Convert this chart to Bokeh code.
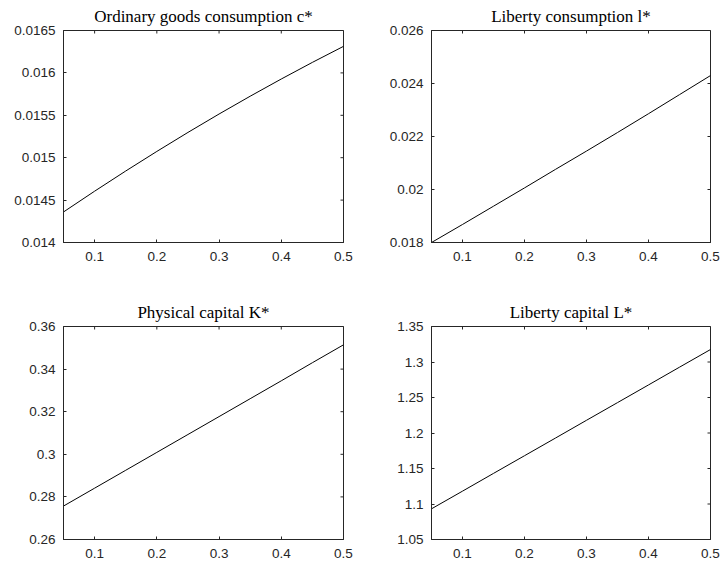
import math
from bokeh.plotting import figure
from bokeh.layouts import gridplot
from bokeh.models import FixedTicker, Range1d
from bokeh.embed import file_html
from bokeh.resources import INLINE

# ---- data ----
x_vals = [0.05, 0.10, 0.15, 0.20, 0.25, 0.30, 0.35, 0.40, 0.45, 0.50]
c_star = [0.01436, 0.014605, 0.014843, 0.015074, 0.015298, 0.015515, 0.015725, 0.015928, 0.016124, 0.016313]
l_star = [0.01800, 0.01868, 0.01937, 0.02006, 0.02076, 0.02145, 0.02215, 0.02286, 0.02358, 0.02430]
K_star = [0.2757, 0.2841, 0.2925, 0.3009, 0.3093, 0.3177, 0.3261, 0.3345, 0.3430, 0.3514]
L_star = [1.0932, 1.1181, 1.1431, 1.1680, 1.1929, 1.2179, 1.2428, 1.2677, 1.2927, 1.3176]

x_ticks = [0.1, 0.2, 0.3, 0.4, 0.5]
x_tick_labels = ["0.1", "0.2", "0.3", "0.4", "0.5"]

c_ticks = [0.014, 0.0145, 0.015, 0.0155, 0.016, 0.0165]
c_tick_labels = ["0.014", "0.0145", "0.015", "0.0155", "0.016", "0.0165"]
l_ticks = [0.018, 0.020, 0.022, 0.024, 0.026]
l_tick_labels = ["0.018", "0.02", "0.022", "0.024", "0.026"]
K_ticks = [0.26, 0.28, 0.30, 0.32, 0.34, 0.36]
K_tick_labels = ["0.26", "0.28", "0.3", "0.32", "0.34", "0.36"]
L_ticks = [1.05, 1.10, 1.15, 1.20, 1.25, 1.30, 1.35]
L_tick_labels = ["1.05", "1.1", "1.15", "1.2", "1.25", "1.3", "1.35"]

titles = ["Ordinary goods consumption c*", "Liberty consumption l*",
          "Physical capital K*", "Liberty capital L*"]

AX_COLOR = "#262626"
TICK_FONT = "Liberation Sans"
TICK_SIZE = "13.5px"


def style_axis(ax):
    ax.axis_line_color = AX_COLOR
    ax.axis_line_width = 1
    ax.major_tick_line_color = AX_COLOR
    ax.major_tick_in = 3
    ax.major_tick_out = 0
    ax.minor_tick_line_color = None
    ax.major_label_text_color = AX_COLOR
    ax.major_label_text_font = TICK_FONT
    ax.major_label_text_font_size = TICK_SIZE


def make_panel(title, xs, ys, yticks, ylabels, ymin, ymax, w, h, bl, br, bt, bb):
    xr = Range1d(0.05, 0.5)
    yr = Range1d(ymin, ymax)
    p = figure(width=w, height=h, output_backend="svg", toolbar_location=None,
               x_range=xr, y_range=yr,
               min_border_left=bl, min_border_right=br,
               min_border_top=bt, min_border_bottom=bb)
    p.title.text = title
    p.title.text_font = "Liberation Serif"
    p.title.text_font_size = "17px"
    p.title.text_font_style = "normal"
    p.title.text_color = "#000000"
    p.title.align = "center"
    p.title.standoff = 9
    p.xgrid.visible = False
    p.ygrid.visible = False
    p.outline_line_color = AX_COLOR
    p.outline_line_width = 1
    p.background_fill_color = "white"
    p.border_fill_color = "white"

    p.xaxis.ticker = FixedTicker(ticks=x_ticks)
    p.xaxis.major_label_overrides = dict(zip(x_ticks, x_tick_labels))
    p.xaxis.major_label_standoff = 9
    p.yaxis.ticker = FixedTicker(ticks=yticks)
    p.yaxis.major_label_overrides = dict(zip(yticks, ylabels))
    p.yaxis.major_label_standoff = 8
    style_axis(p.xaxis[0])
    style_axis(p.yaxis[0])

    # inward tick marks on the top and right edges (box style), clipped to the frame
    p.scatter(x=x_ticks, y=[yr.end] * len(x_ticks), marker="dash", angle=math.pi / 2,
              size=6, line_color=AX_COLOR, line_width=1)
    p.scatter(x=[xr.end] * len(yticks), y=yticks, marker="dash",
              size=6, line_color=AX_COLOR, line_width=1)

    p.line(xs, ys, line_color="black", line_width=1)
    return p


p1 = make_panel(titles[0], x_vals, c_star, c_ticks, c_tick_labels, 0.014, 0.0165,
                361, 280, 63, 18, 30, 38)
p2 = make_panel(titles[1], x_vals, l_star, l_ticks, l_tick_labels, 0.018, 0.026,
                362, 280, 70, 13, 30, 38)
p3 = make_panel(titles[2], x_vals, K_star, K_ticks, K_tick_labels, 0.26, 0.36,
                361, 287, 63, 18, 46, 28)
p4 = make_panel(titles[3], x_vals, L_star, L_ticks, L_tick_labels, 1.05, 1.35,
                362, 287, 70, 13, 46, 28)

grid = gridplot([[p1, p2], [p3, p4]], toolbar_location=None)

open("out.html", "w").write(file_html(grid, INLINE))
